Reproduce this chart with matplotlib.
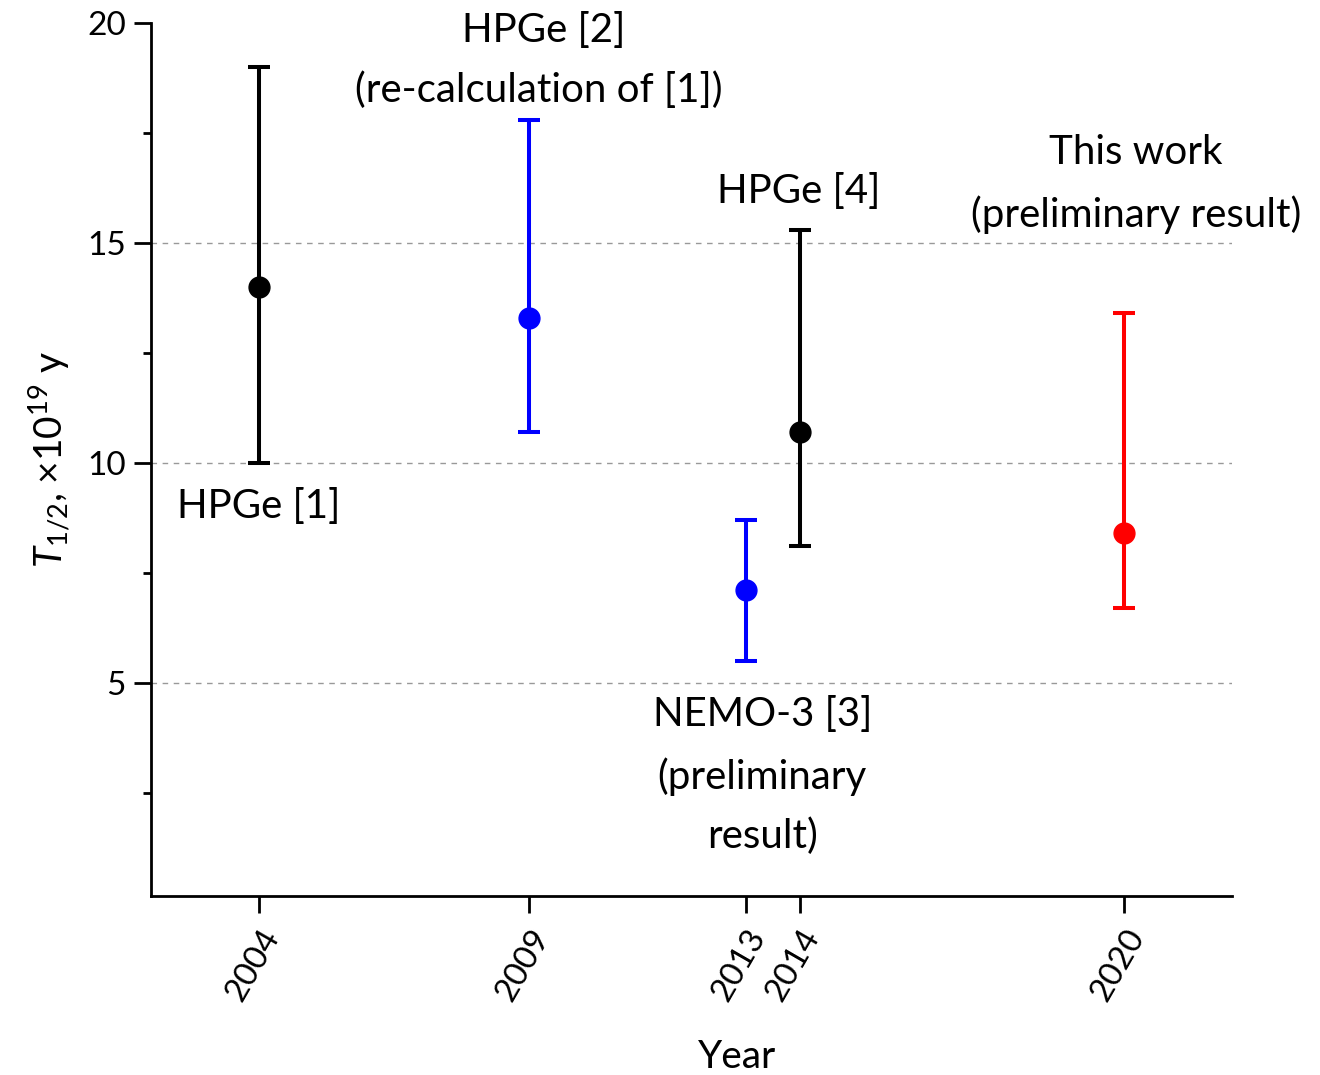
import matplotlib.pyplot as plt
from matplotlib.ticker import MultipleLocator

plt.rcParams['font.family'] = ['Lato', 'DejaVu Sans']
plt.rcParams['mathtext.fontset'] = 'custom'
plt.rcParams['mathtext.it'] = 'Lato:italic'
plt.rcParams['mathtext.rm'] = 'Lato'

# measurements: year, half-life (x1e19 y), lower/upper bounds
years = [2004, 2009, 2013, 2014, 2020]
t_half = [14.0, 13.3, 7.1, 10.7, 8.4]
t_low = [10.0, 10.7, 5.5, 8.1, 6.7]
t_high = [19.0, 17.8, 8.7, 15.3, 13.4]
colors = ['black', 'blue', 'blue', 'black', 'red']
xtick_labels = ['2004', '2009', '2013', '2014', '2020']
grid_levels = [5, 10, 15]

fig = plt.figure(figsize=(13.2, 10.75), dpi=100)
ax = fig.add_axes([0.1144, 0.1665, 0.8189, 0.8121])

for x, y, lo, hi, c in zip(years, t_half, t_low, t_high, colors):
    ax.errorbar([x], [y], yerr=[[y - lo], [hi - y]], fmt='o', color=c,
                ms=15, elinewidth=2.9, capsize=8, capthick=2.9, zorder=3)

for g in grid_levels:
    ax.axhline(g, color='#999999', ls=(0, (4, 4)), lw=1, zorder=1)

ax.set_xlim(2002, 2022)
ax.set_ylim(0.15, 20)
ax.set_xticks(years)
ax.set_xticklabels(xtick_labels, rotation=60, ha='right', rotation_mode='anchor')
ax.yaxis.set_major_locator(MultipleLocator(5))
ax.yaxis.set_minor_locator(MultipleLocator(2.5))
ax.set_yticks([5, 10, 15, 20])

for s in ['top', 'right']:
    ax.spines[s].set_visible(False)
for s in ['left', 'bottom']:
    ax.spines[s].set_linewidth(2)
ax.tick_params(which='major', length=12, width=2, labelsize=24, direction='out')
ax.tick_params(which='minor', length=6, width=2)
ax.tick_params(axis='x', pad=8)
ax.tick_params(axis='y', pad=6)

ax.set_xlabel('Year', fontsize=28, va='center')
ax.xaxis.set_label_coords(0.542, -0.184)
ax.set_ylabel(r'$T_{1/2}$, ×10$^{19}$ y', fontsize=28, labelpad=10)

fs = 29
ax.text(2004, 9.0, 'HPGe [1]', fontsize=fs, ha='center', va='center')
ax.text(2009.26, 19.84, 'HPGe [2]', fontsize=fs, ha='center', va='center', clip_on=False)
ax.text(2009.17, 18.48, '(re-calculation of [1])', fontsize=fs, ha='center', va='center')
ax.text(2013.98, 16.16, 'HPGe [4]', fontsize=fs, ha='center', va='center')
ax.text(2020.22, 17.05, 'This work', fontsize=fs, ha='center', va='center')
ax.text(2020.22, 15.64, '(preliminary result)', fontsize=fs, ha='center', va='center', clip_on=False)
ax.text(2013.31, 4.27, 'NEMO-3 [3]', fontsize=fs, ha='center', va='center')
ax.text(2013.31, 2.86, '(preliminary', fontsize=fs, ha='center', va='center')
ax.text(2013.31, 1.5, 'result)', fontsize=fs, ha='center', va='center')

fig.savefig('out.png', dpi=100)
